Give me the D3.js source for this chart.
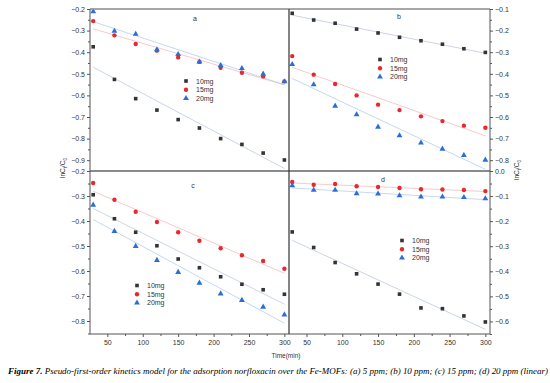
<!DOCTYPE html>
<html>
<head>
<meta charset="utf-8">
<script src="https://cdn.jsdelivr.net/npm/d3@7"></script>
<style>
body { margin: 0; background: #fff; }
svg { display: block; }
</style>
</head>
<body>
<svg id="chart" width="550" height="383"></svg>
<script>
// sampling times (min)
let times = [30, 60, 90, 120, 150, 180, 210, 240, 270, 300];
let doses = ["10mg", "15mg", "20mg"];

// lnCt/C0, panel a (5 ppm)
let a10 = [-0.375, -0.526, -0.615, -0.668, -0.712, -0.751, -0.800, -0.827, -0.867, -0.899];
let a15 = [-0.256, -0.322, -0.362, -0.393, -0.424, -0.445, -0.472, -0.495, -0.512, -0.535];
let a20 = [-0.212, -0.302, -0.316, -0.388, -0.410, -0.445, -0.461, -0.475, -0.501, -0.536];
// panel b (10 ppm)
let b10 = [-0.120, -0.151, -0.166, -0.193, -0.211, -0.231, -0.247, -0.263, -0.284, -0.301];
let b15 = [-0.318, -0.404, -0.447, -0.500, -0.543, -0.568, -0.597, -0.619, -0.640, -0.650];
let b20 = [-0.356, -0.450, -0.549, -0.589, -0.646, -0.686, -0.720, -0.748, -0.777, -0.799];
// panel c (15 ppm)
let c10 = [-0.295, -0.391, -0.445, -0.499, -0.552, -0.587, -0.623, -0.653, -0.675, -0.693];
let c15 = [-0.248, -0.315, -0.363, -0.404, -0.445, -0.479, -0.509, -0.537, -0.560, -0.591];
let c20 = [-0.336, -0.441, -0.501, -0.557, -0.605, -0.648, -0.691, -0.717, -0.744, -0.775];
// panel d (20 ppm)
let d10 = [-0.243, -0.305, -0.365, -0.410, -0.451, -0.491, -0.546, -0.549, -0.578, -0.602];
let d15 = [-0.044, -0.055, -0.052, -0.061, -0.064, -0.068, -0.073, -0.074, -0.076, -0.080];
let d20 = [-0.058, -0.076, -0.076, -0.090, -0.091, -0.098, -0.103, -0.103, -0.105, -0.110];

// axis ticks
let xTicks = [50, 100, 150, 200, 250, 300];
let xMinor = [75, 125, 175, 225, 275];
let aTicks = [-0.9, -0.8, -0.7, -0.6, -0.5, -0.4, -0.3, -0.2];
let bTicks = [-0.8, -0.7, -0.6, -0.5, -0.4, -0.3, -0.2, -0.1];
let cTicks = [-0.8, -0.7, -0.6, -0.5, -0.4, -0.3, -0.2];
let dTicks = [-0.6, -0.5, -0.4, -0.3, -0.2, -0.1, 0.0];

let caption = "Pseudo-first-order kinetics model for the adsorption norfloxacin over the Fe-MOFs: (a) 5 ppm; (b) 10 ppm; (c) 15 ppm; (d) 20 ppm (linear)";

let svg = d3.select("#chart");
let font = "'Liberation Sans', Arial, sans-serif";
let textColor = "#333";
let plotLeft = 90, plotMid = 289, plotRight = 490, plotTop = 9, plotMidY = 171, plotBottom = 334;

let markerColors = ["#333333", "#e8282c", "#2b6fd6"];
let fitColors = ["#bccadc", "#f4bcc0", "#b2cff0"];
let symbols = [d3.symbolSquare, d3.symbolCircle, d3.symbolTriangle];
let symbolSizes = [13, 15, 15];

let panels = [
    {name: "a", series: [a10, a15, a20], x0: plotLeft, x1: plotMid, y0: plotTop, y1: plotMidY, domain: [-0.95, -0.2], ticks: aTicks, side: "left", xAxis: false, label: [195, 21], legend: [186, 81]},
    {name: "b", series: [b10, b15, b20], x0: plotMid, x1: plotRight, y0: plotTop, y1: plotMidY, domain: [-0.85, -0.1], ticks: bTicks, side: "right", xAxis: false, label: [399, 19], legend: [380, 59.5]},
    {name: "c", series: [c10, c15, c20], x0: plotLeft, x1: plotMid, y0: plotMidY, y1: plotBottom, domain: [-0.852, -0.2], ticks: cTicks, side: "left", xAxis: true, label: [193, 188], legend: [137, 285.5]},
    {name: "d", series: [d10, d15, d20], x0: plotMid, x1: plotRight, y0: plotMidY, y1: plotBottom, domain: [-0.65, 0], ticks: dTicks, side: "right", xAxis: true, label: [383, 182], legend: [402, 240.5]}
];

// least squares line through one series
function fitLine(ys) {
    let mx = d3.mean(times), my = d3.mean(ys);
    let sxy = d3.sum(times, (t, i) => (t - mx) * (ys[i] - my));
    let sxx = d3.sum(times, t => (t - mx) * (t - mx));
    let slope = sxy / sxx;
    return t => my + slope * (t - mx);
}

function drawPanel(p) {
    let g = svg.append("g");
    let x = d3.scaleLinear().domain([25.5, 306.5]).range([p.x0, p.x1]);
    let y = d3.scaleLinear().domain(p.domain).range([p.y1, p.y0]);

    // y axis with minor ticks
    let minor = d3.range(Math.round(p.domain[0] * 20), Math.round(p.domain[1] * 20))
        .map(k => k / 20).filter(v => Math.abs(Math.round(v * 10) - v * 10) > 0.01);
    let axisX = p.side == "left" ? p.x0 : p.x1;
    let mk = p.side == "left" ? d3.axisLeft : d3.axisRight;
    let yAxis = g.append("g")
        .attr("transform", "translate(" + axisX + ",0)")
        .call(mk(y).tickValues(p.ticks).tickSize(3).tickPadding(2).tickFormat(d3.format(".1f")));
    g.append("g")
        .attr("transform", "translate(" + axisX + ",0)")
        .call(mk(y).tickValues(minor).tickSize(2).tickFormat(""))
        .select(".domain").remove();
    yAxis.select(".domain").remove();

    if (p.xAxis) {
        g.append("g")
            .attr("transform", "translate(0," + p.y1 + ")")
            .call(d3.axisBottom(x).tickValues(xTicks).tickSize(3).tickPadding(3))
            .select(".domain").remove();
        g.append("g")
            .attr("transform", "translate(0," + p.y1 + ")")
            .call(d3.axisBottom(x).tickValues(xMinor).tickSize(2).tickFormat(""))
            .select(".domain").remove();
    }

    g.selectAll(".tick line").attr("stroke", "#555");
    g.selectAll(".tick text")
        .style("font-family", font)
        .style("font-size", "7px")
        .attr("fill", textColor);

    // fitted lines
    p.series.forEach(function(ys, i) {
        let f = fitLine(ys);
        g.append("line")
            .attr("x1", x(times[0]))
            .attr("x2", x(times[times.length - 1]))
            .attr("y1", y(f(times[0])))
            .attr("y2", y(f(times[times.length - 1])))
            .attr("stroke", fitColors[i])
            .attr("stroke-width", 0.8);
    });

    // points
    p.series.forEach(function(ys, i) {
        g.selectAll(null)
            .data(ys)
            .enter()
            .append("path")
            .attr("d", d3.symbol().type(symbols[i]).size(symbolSizes[i]))
            .attr("transform", (v, j) => "translate(" + x(times[j]) + "," + y(v) + ")")
            .attr("fill", markerColors[i]);
    });

    // legend
    doses.forEach(function(dose, i) {
        let ly = p.legend[1] + i * 8.7;
        g.append("path")
            .attr("d", d3.symbol().type(symbols[i]).size(symbolSizes[i]))
            .attr("transform", "translate(" + p.legend[0] + "," + ly + ")")
            .attr("fill", markerColors[i]);
        g.append("text")
            .attr("x", p.legend[0] + 10)
            .attr("y", ly + 2.5)
            .text(dose)
            .style("font-family", font)
            .style("font-size", "7px")
            .attr("fill", textColor);
    });

    // panel letter
    g.append("text")
        .attr("x", p.label[0])
        .attr("y", p.label[1])
        .text(p.name)
        .style("font-family", font)
        .style("font-size", "7px")
        .style("text-anchor", "middle")
        .attr("fill", textColor);
}

panels.forEach(drawPanel);

// frame
svg.append("line").attr("x1", plotLeft).attr("x2", plotRight).attr("y1", plotTop).attr("y2", plotTop)
    .attr("stroke", "#8a8a8a").attr("stroke-width", 1.5);
svg.append("line").attr("x1", plotLeft).attr("x2", plotRight).attr("y1", plotMidY).attr("y2", plotMidY)
    .attr("stroke", "#8a8a8a").attr("stroke-width", 1.8);
svg.append("line").attr("x1", plotLeft).attr("x2", plotRight).attr("y1", plotBottom).attr("y2", plotBottom)
    .attr("stroke", "#555").attr("stroke-width", 1);
[plotLeft, plotMid, plotRight].forEach(function(xv) {
    svg.append("line").attr("x1", xv).attr("x2", xv).attr("y1", plotTop).attr("y2", plotBottom)
        .attr("stroke", xv == plotMid ? "#333" : "#555").attr("stroke-width", xv == plotMid ? 1.2 : 1);
});

// axis titles
function yTitle(xPos, yPos) {
    let t = svg.append("text")
        .attr("transform", "translate(" + xPos + "," + yPos + ") rotate(-90)")
        .style("font-family", font)
        .style("font-size", "6.5px")
        .style("text-anchor", "middle")
        .attr("fill", textColor);
    t.append("tspan").text("lnC");
    t.append("tspan").text("t").style("font-size", "4.5px").attr("dy", 1.5);
    t.append("tspan").text("/C").attr("dy", -1.5);
    t.append("tspan").text("0").style("font-size", "4.5px").attr("dy", 1.5);
}
yTitle(65, 168);
yTitle(519, 170);

svg.append("text")
    .attr("x", 286)
    .attr("y", 358)
    .text("Time(min)")
    .style("font-family", font)
    .style("font-size", "6.5px")
    .style("text-anchor", "middle")
    .attr("fill", textColor);

// caption
let cap = svg.append("text")
    .attr("x", 8)
    .attr("y", 374)
    .attr("textLength", 540)
    .attr("lengthAdjust", "spacingAndGlyphs")
    .style("font-family", "'Liberation Serif', 'Times New Roman', serif")
    .style("font-style", "italic")
    .style("font-size", "8.6px")
    .attr("fill", "#000");
cap.append("tspan").text("Figure 7. ").style("font-weight", "bold");
cap.append("tspan").text(caption);
</script>
</body>
</html>
